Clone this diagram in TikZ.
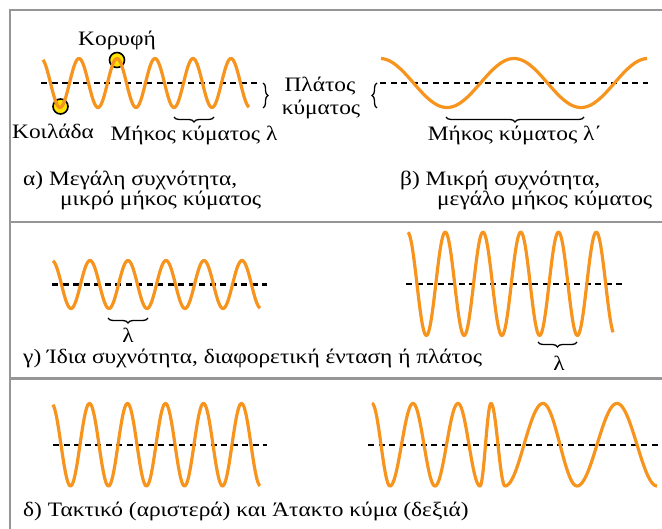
\documentclass[tikz,border=0pt]{standalone}
\usepackage{fontspec}
\setmainfont{Liberation Serif}[FakeStretch=1.14]
\usetikzlibrary{decorations.pathreplacing}
\definecolor{waveorange}{RGB}{247,148,29}
\definecolor{framegray}{RGB}{150,150,150}
\definecolor{dotyellow}{RGB}{255,228,0}
\tikzset{
  wave/.style={draw=waveorange, line width=3.2pt, line join=round},
  axisline/.style={draw=black, line width=2.3pt, dash pattern=on 6pt off 4.5pt},
  frameline/.style={draw=framegray, line width=2.4pt},
  bracebelow/.style={draw=black, line width=1.3pt, decorate, decoration={brace, amplitude=5pt}},
  marker/.style={circle, draw=black, line width=1.6pt, fill=dotyellow, minimum size=15pt, inner sep=0pt},
  lbl/.style={font=\fontsize{20.5}{24}\selectfont, inner sep=0pt},
  captext/.style={font=\fontsize{20.5}{24}\selectfont, inner sep=0pt, anchor=west},
}
\begin{document}
\begin{tikzpicture}[x=1pt, y=-1pt]
\useasboundingbox (0,0) rectangle (662,529);
% frame
\draw[frameline] (10,529) -- (10,10) -- (662,10);
\draw[frameline] (10,222) -- (662,222);
\draw[frameline] (10,378.5) -- (662,378.5);

% ---------- panel alpha ----------
\coordinate (a1) at (41,83); \coordinate (a2) at (258,83);
\draw[axisline] (a1) -- (a2);
\node[marker] (crest) at (117,60) {};
\node[marker] (trough) at (60.5,106.5) {};
\draw[wave] plot[domain=43:249, samples=220] (\x, {83-24.5*cos((\x-41)/38*360)});
\node[lbl] (crestlbl) at (117,40) {Κορυφή};
\node[lbl] (troughlbl) at (53,131) {Κοιλάδα};
\coordinate (ab1) at (214,117); \coordinate (ab2) at (174,117);
\draw[bracebelow] (ab1) -- (ab2);
\node[lbl] (alam) at (194,135) {Μήκος κύματος λ};
\coordinate (amp1) at (263,83); \coordinate (amp2) at (263,108);
\draw[bracebelow] (amp1) -- (amp2);
\node[lbl] (amptxt1) at (320,86) {Πλάτος};
\node[lbl] (amptxt2) at (321,109) {κύματος};
\node[captext] (acap1) at (23,180) {α) Μεγάλη συχνότητα,};
\node[captext] (acap2) at (60,200) {μικρό μήκος κύματος};

% ---------- panel beta ----------
\coordinate (b1) at (380,83); \coordinate (b2) at (648,83);
\draw[axisline] (b1) -- (b2);
\draw[wave] plot[domain=381:647, samples=220] (\x, {83-24.5*cos((\x-380)/134*360)});
\coordinate (bamp1) at (377,108); \coordinate (bamp2) at (377,83);
\draw[bracebelow] (bamp1) -- (bamp2);
\coordinate (bb1) at (584,117); \coordinate (bb2) at (446,117);
\draw[bracebelow] (bb1) -- (bb2);
\node[lbl] (blam) at (515,135) {Μήκος κύματος λ΄};
\node[captext] (bcap1) at (400,180) {β) Μικρή συχνότητα,};
\node[captext] (bcap2) at (437,200) {μεγάλο μήκος κύματος};

% ---------- panel gamma ----------
\coordinate (g1) at (52,284.5); \coordinate (g2) at (267,284.5);
\draw[axisline] (g1) -- (g2);
\draw[wave] plot[domain=53:260, samples=220] (\x, {284.5-24*cos((\x-52)/38*360)});
\coordinate (gb1) at (148,318); \coordinate (gb2) at (108,318);
\draw[bracebelow] (gb1) -- (gb2);
\node[lbl] (glam1) at (128,335) {λ};
\coordinate (g3) at (406,283.8); \coordinate (g4) at (622,283.8);
\draw[axisline] (g3) -- (g4);
\draw[wave] plot[domain=408:613, samples=220] (\x, {283.8-51.7*cos((\x-407.5)/37.75*360)});
\coordinate (gb3) at (577,342); \coordinate (gb4) at (538,342);
\draw[bracebelow] (gb3) -- (gb4);
\node[lbl] (glam2) at (559,363) {λ};
\node[captext] (gcap) at (23,358) {γ) Ίδια συχνότητα, διαφορετική ένταση ή πλάτος};

% ---------- panel delta ----------
\coordinate (d1) at (53,444.7); \coordinate (d2) at (267,444.7);
\draw[axisline] (d1) -- (d2);
\draw[wave] plot[domain=53:260, samples=220] (\x, {444.7-41.3*cos((\x-51.5)/38*360)});
\coordinate (d3) at (368,444.7); \coordinate (d4) at (662,444.7);
\draw[axisline] (d3) -- (d4);
\draw[wave] (372,403.4)
  foreach \a/\b/\s in {372/390/1, 390/413/-1, 413/435/1, 435/458/-1, 458/480/1,
                       480/491/-1, 491/505/1, 505/543/-1, 543/577/1, 577/617/-1, 617/657/1}
  { -- plot[domain=0:180, samples=30] ({\a+(\b-\a)*\x/180}, {444.7-\s*41.3*cos(\x)}) };
\node[captext] (dcap) at (23,511) {δ) Τακτικό (αριστερά) και Άτακτο κύμα (δεξιά)};
\end{tikzpicture}
\end{document}
